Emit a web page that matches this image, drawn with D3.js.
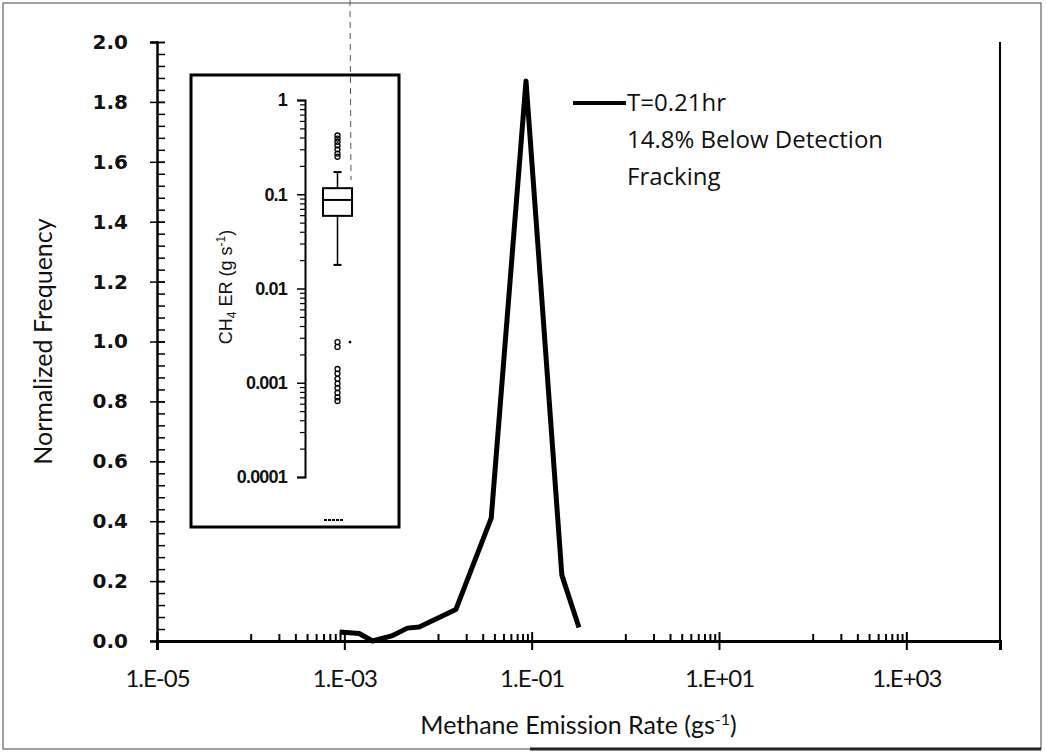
<!DOCTYPE html>
<html><head><meta charset="utf-8">
<script src="https://cdn.jsdelivr.net/npm/d3@7"></script>
<style>
body{margin:0;background:#fff;}
svg{display:block;}
</style></head>
<body>
<svg id="c" width="1046" height="754"></svg>
<script>
// ---- data ----
const rateX = [0.00089, 0.00144, 0.0020, 0.0032, 0.0047, 0.0063, 0.0155, 0.037, 0.087, 0.21, 0.32];
const freqY = [0.03, 0.025, 0.0, 0.017, 0.043, 0.047, 0.105, 0.41, 1.87, 0.22, 0.045];
const xTickValues = [1e-5, 1e-3, 1e-1, 1e1, 1e3];
const xTickLabels = ["1.E-05", "1.E-03", "1.E-01", "1.E+01", "1.E+03"];
const yTickValues = [0, 0.2, 0.4, 0.6, 0.8, 1.0, 1.2, 1.4, 1.6, 1.8, 2.0];
const legendLines = ["T=0.21hr", "14.8% Below Detection", "Fracking"];
// inset box plot (CH4 ER, g/s)
const boxStats = {q1: 0.059, median: 0.087, q3: 0.116, whiskLo: 0.0178, whiskHi: 0.172};
const outliersHigh = [0.42, 0.39, 0.36, 0.33, 0.30, 0.27, 0.25];
const outliersLow = [0.0027, 0.0024, 0.0014, 0.00125, 0.0011, 0.00098, 0.00088, 0.00078, 0.0007, 0.00064];
const insetTickValues = [1, 0.1, 0.01, 0.001, 0.0001];
const insetTickLabels = ["1", "0.1", "0.01", "0.001", "0.0001"];

const svg = d3.select("#c");
const M = {left: 157, right: 1000, top: 42, bottom: 641};
const x = d3.scaleLog().domain([1e-5, 1e4]).range([M.left, M.right]);
const y = d3.scaleLinear().domain([0, 2]).range([M.bottom, M.top]);

// outer frame
svg.append("rect").attr("x", 3).attr("y", 3).attr("width", 1038).attr("height", 746)
  .attr("fill", "none").attr("stroke", "#444").attr("stroke-width", 1);
svg.append("line").attr("x1", 530).attr("x2", 1041).attr("y1", 749).attr("y2", 749)
  .attr("stroke", "#222").attr("stroke-width", 3);

// right border of plot
svg.append("line").attr("x1", M.right).attr("x2", M.right).attr("y1", M.top).attr("y2", M.bottom)
  .attr("stroke", "#000").attr("stroke-width", 2);

// y axis
const yMinor = d3.range(0, 2.0001, 0.04);
svg.append("g").attr("transform", `translate(${M.left},0)`)
  .call(d3.axisRight(y).tickValues(yMinor).tickSize(8).tickFormat(""))
  .call(g => g.select(".domain").remove())
  .selectAll("line").attr("stroke", "#000").attr("stroke-width", 1.5);
const yAx = svg.append("g").attr("transform", `translate(${M.left},0)`)
  .call(d3.axisLeft(y).tickValues(yTickValues).tickSize(7).tickPadding(22).tickFormat(d3.format(".1f")));
yAx.select(".domain").attr("stroke", "#000").attr("stroke-width", 2.5);
yAx.selectAll("line").attr("stroke", "#000").attr("stroke-width", 1.5);
yAx.selectAll(".tick").append("line").attr("x1", 0).attr("x2", 8).attr("stroke", "#000").attr("stroke-width", 1.5);
yAx.selectAll("text").attr("font-family", "DejaVu Sans").attr("font-weight", "bold")
  .attr("font-size", 20).attr("fill", "#111");

// x axis
const xMinor = [];
[1e-4, 1e-2, 1e0, 1e2].forEach(b => { for (let m = 1; m <= 9; m++) xMinor.push(b * m); });
svg.append("g").attr("transform", `translate(0,${M.bottom})`)
  .call(d3.axisTop(x).tickValues(xMinor).tickSize(7).tickFormat(""))
  .call(g => g.select(".domain").remove())
  .selectAll("line").attr("stroke", "#000").attr("stroke-width", 2);
const xAx = svg.append("g").attr("transform", `translate(0,${M.bottom})`)
  .call(d3.axisBottom(x).tickValues(xTickValues).tickSize(9).tickPadding(20)
    .tickFormat((d, i) => xTickLabels[i]));
xAx.select(".domain").attr("stroke", "#000").attr("stroke-width", 3);
xAx.selectAll(".tick line").attr("stroke", "#000").attr("stroke-width", 2);
xAx.selectAll(".tick").append("line").attr("y1", 0).attr("y2", -9).attr("stroke", "#000").attr("stroke-width", 2);
xAx.selectAll("text").attr("font-family", "Lato").attr("font-size", 24).attr("fill", "#111")
  .attr("letter-spacing", -1);

// axis titles
svg.append("text").attr("transform", `translate(52,${(M.top + M.bottom) / 2}) rotate(-90)`)
  .attr("text-anchor", "middle").attr("font-family", "Lato").attr("font-size", 25).attr("fill", "#111")
  .text("Normalized Frequency");
const xt = svg.append("text").attr("x", (M.left + M.right) / 2).attr("y", 734)
  .attr("text-anchor", "middle").attr("font-family", "Lato").attr("font-size", 25).attr("fill", "#111");
xt.append("tspan").text("Methane Emission Rate (gs");
xt.append("tspan").attr("dy", -9).attr("font-size", 16).text("-1");
xt.append("tspan").attr("dy", 9).text(")");

// curve
const line = d3.line().x((d, i) => x(rateX[i])).y(d => y(d));
svg.append("path").datum(freqY).attr("d", line).attr("fill", "none")
  .attr("stroke", "#000").attr("stroke-width", 5).attr("stroke-linejoin", "round");

// legend
const lg = svg.append("g");
lg.append("line").attr("x1", 573).attr("x2", 626).attr("y1", 103).attr("y2", 103)
  .attr("stroke", "#000").attr("stroke-width", 4);
legendLines.forEach((t, i) => {
  lg.append("text").attr("x", 627).attr("y", 111 + i * 37).attr("font-family", "Open Sans")
    .attr("font-size", 24).attr("fill", "#111").text(t);
});

// inset
const I = {left: 191, right: 399, top: 75, bottom: 527};
svg.append("rect").attr("x", I.left).attr("y", I.top).attr("width", I.right - I.left).attr("height", I.bottom - I.top)
  .attr("fill", "#fff").attr("stroke", "#000").attr("stroke-width", 3);

// dashed scan line
svg.append("line").attr("x1", 350).attr("x2", 351).attr("y1", 0).attr("y2", 180)
  .attr("stroke", "#555").attr("stroke-width", 1).attr("stroke-dasharray", "6,5");

const iy = d3.scaleLog().domain([1e-4, 1]).range([477, 100]);
const iAxX = 305;
const insetMinor = [];
[1e-4, 1e-3, 1e-2, 1e-1].forEach(b => { for (let m = 2; m <= 9; m++) insetMinor.push(b * m); });
svg.append("g").attr("transform", `translate(${iAxX},0)`)
  .call(d3.axisLeft(iy).tickValues(insetMinor).tickSize(5).tickFormat(""))
  .call(g => g.select(".domain").remove())
  .selectAll("line").attr("stroke", "#000").attr("stroke-width", 1.2);
const iAx = svg.append("g").attr("transform", `translate(${iAxX},0)`)
  .call(d3.axisLeft(iy).tickValues(insetTickValues).tickSize(8).tickPadding(10)
    .tickFormat((d, i) => insetTickLabels[i]));
iAx.select(".domain").attr("stroke", "#000").attr("stroke-width", 2);
iAx.selectAll(".tick line").attr("stroke", "#000").attr("stroke-width", 1.5);
iAx.selectAll("text").attr("font-family", "Liberation Sans").attr("font-weight", "bold")
  .attr("font-size", 18).attr("letter-spacing", -0.8).attr("fill", "#111");
const it = svg.append("text").attr("transform", `translate(232,287) rotate(-90)`)
  .attr("text-anchor", "middle").attr("font-family", "Liberation Sans").attr("font-size", 18).attr("fill", "#111");
it.append("tspan").text("CH");
it.append("tspan").attr("dy", 4).attr("font-size", 12).text("4");
it.append("tspan").attr("dy", -4).text(" ER (g s");
it.append("tspan").attr("dy", -7).attr("font-size", 12).text("-1");
it.append("tspan").attr("dy", 7).text(")");

// box plot
const bx = 337.5, bw = 29;
const bp = svg.append("g").attr("stroke", "#000").attr("fill", "none");
bp.append("line").attr("x1", bx).attr("x2", bx).attr("y1", iy(boxStats.whiskHi)).attr("y2", iy(boxStats.q3)).attr("stroke-width", 1.5);
bp.append("line").attr("x1", bx).attr("x2", bx).attr("y1", iy(boxStats.q1)).attr("y2", iy(boxStats.whiskLo)).attr("stroke-width", 1.5);
bp.append("line").attr("x1", bx - 4).attr("x2", bx + 4).attr("y1", iy(boxStats.whiskHi)).attr("y2", iy(boxStats.whiskHi)).attr("stroke-width", 2);
bp.append("line").attr("x1", bx - 4).attr("x2", bx + 4).attr("y1", iy(boxStats.whiskLo)).attr("y2", iy(boxStats.whiskLo)).attr("stroke-width", 2);
bp.append("rect").attr("x", bx - bw / 2).attr("y", iy(boxStats.q3)).attr("width", bw)
  .attr("height", iy(boxStats.q1) - iy(boxStats.q3)).attr("stroke-width", 2);
bp.append("line").attr("x1", bx - bw / 2).attr("x2", bx + bw / 2).attr("y1", iy(boxStats.median)).attr("y2", iy(boxStats.median)).attr("stroke-width", 2);
bp.selectAll("circle.o").data(outliersHigh.concat(outliersLow)).enter().append("circle")
  .attr("cx", bx).attr("cy", d => iy(d)).attr("r", 2.5).attr("stroke-width", 1.3);
bp.append("circle").attr("cx", 350).attr("cy", iy(outliersLow[0])).attr("r", 1).attr("fill", "#000");
// below-detection marker
bp.append("line").attr("x1", 324).attr("x2", 344).attr("y1", 520).attr("y2", 520)
  .attr("stroke-width", 2).attr("stroke-dasharray", "3,1");
</script>
</body></html>
